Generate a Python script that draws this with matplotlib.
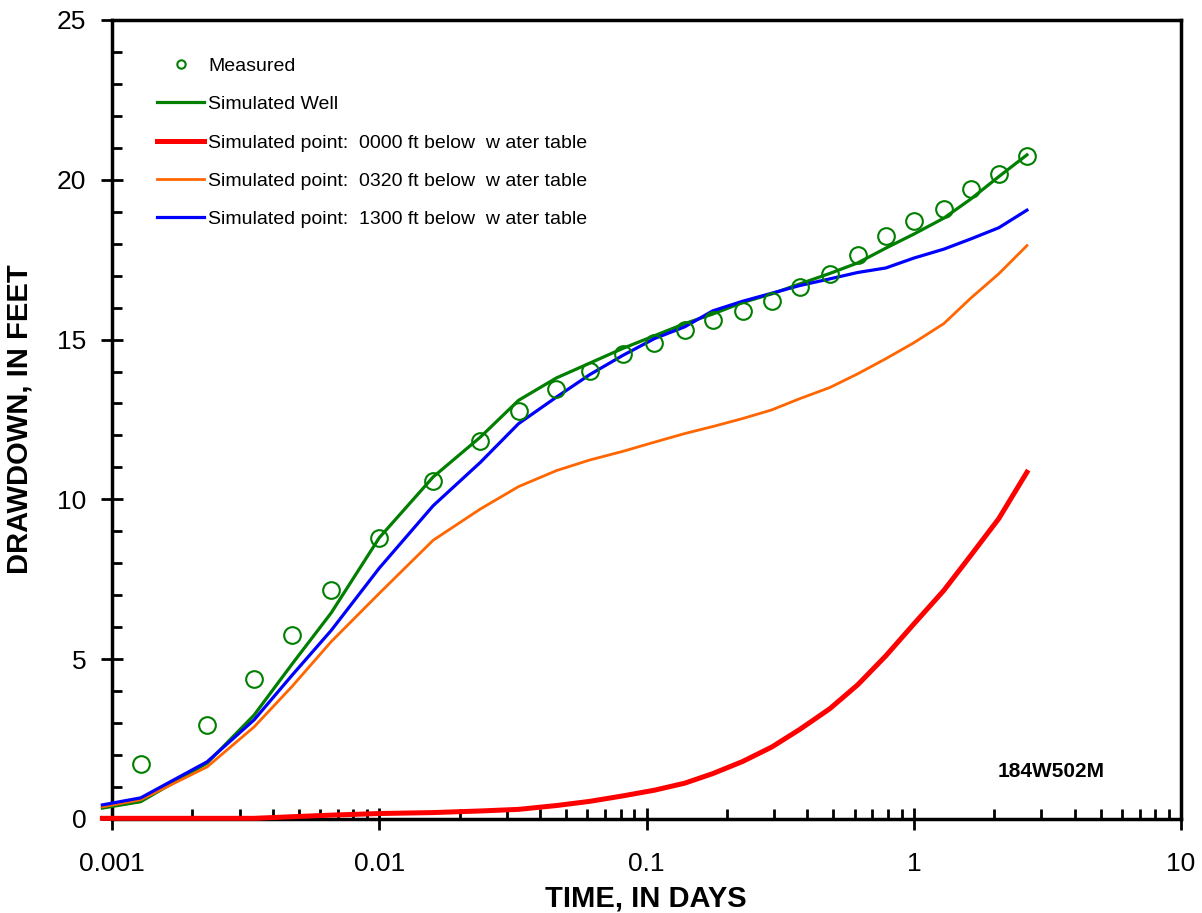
import numpy as np
import matplotlib
matplotlib.use('Agg')
import matplotlib.pyplot as plt
from matplotlib.ticker import LogLocator, MultipleLocator, FixedLocator, FixedFormatter

plt.rcParams['font.family'] = ['Liberation Sans', 'DejaVu Sans']

# measured drawdown at the observation well
t_meas = [0.00128, 0.00227, 0.0034, 0.00472, 0.00661, 0.01, 0.0159, 0.0239, 0.0332,
          0.046, 0.0612, 0.0813, 0.107, 0.139, 0.177, 0.229, 0.294, 0.374, 0.485,
          0.617, 0.785, 1.0, 1.295, 1.635, 2.08, 2.65]
dd_meas = [1.72, 2.94, 4.375, 5.75, 7.16, 8.78, 10.56, 11.84, 12.75, 13.44, 14.03,
           14.56, 14.9, 15.3, 15.6, 15.88, 16.2, 16.63, 17.05, 17.66, 18.25, 18.72,
           19.1, 19.7, 20.17, 20.75]

# simulated curves (same time steps, plus the first step)
t_sim = [0.00092] + t_meas
dd_well = [0.34, 0.54, 1.75, 3.25, 4.85, 6.45, 8.8, 10.7, 11.95, 13.1, 13.8, 14.26,
           14.72, 15.12, 15.5, 15.8, 16.16, 16.43, 16.74, 17.07, 17.4, 17.86, 18.3,
           18.8, 19.4, 20.1, 20.78]
dd_0000 = [0.02, 0.02, 0.02, 0.02, 0.07, 0.12, 0.17, 0.2, 0.25, 0.3, 0.42, 0.55, 0.72,
           0.9, 1.12, 1.42, 1.8, 2.25, 2.8, 3.45, 4.2, 5.1, 6.1, 7.15, 8.25, 9.4, 10.85]
dd_0320 = [0.38, 0.6, 1.63, 2.88, 4.15, 5.55, 7.06, 8.72, 9.7, 10.4, 10.9, 11.23, 11.5,
           11.79, 12.06, 12.28, 12.53, 12.8, 13.15, 13.5, 13.93, 14.4, 14.9, 15.5,
           16.3, 17.06, 17.94]
dd_1300 = [0.44, 0.66, 1.79, 3.1, 4.5, 5.9, 7.85, 9.8, 11.16, 12.37, 13.2, 13.9, 14.5,
           15.03, 15.4, 15.9, 16.2, 16.45, 16.69, 16.9, 17.1, 17.24, 17.55, 17.83,
           18.15, 18.5, 19.05]

xticks = [0.001, 0.01, 0.1, 1, 10]
xticklabels = ['0.001', '0.01', '0.1', '1', '10']

fig = plt.figure(figsize=(12.02, 9.13), dpi=100)
ax = fig.add_axes([0.0932, 0.103, 0.8894, 0.8751])

ax.plot(t_sim, dd_well, color='#007f00', lw=2.3, label='Simulated Well', clip_on=False, zorder=3)
ax.plot(t_sim, dd_0320, color='#ff6600', lw=2.0,
        label='Simulated point:  0320 ft below  w ater table', clip_on=False, zorder=3)
ax.plot(t_sim, dd_1300, color='#0000ff', lw=2.3,
        label='Simulated point:  1300 ft below  w ater table', clip_on=False, zorder=4)
ax.plot(t_sim, dd_0000, color='#ff0000', lw=3.6,
        label='Simulated point:  0000 ft below  w ater table', clip_on=False, zorder=5)
ax.plot(t_meas, dd_meas, ls='none', marker='o', ms=12, mfc='none', mec='#007f00',
        mew=1.5, label='Measured', zorder=6)

ax.set_xscale('log')
ax.set_xlim(0.001, 10)
ax.set_ylim(0, 25)

ax.xaxis.set_major_locator(FixedLocator(xticks))
ax.xaxis.set_major_formatter(FixedFormatter(xticklabels))
ax.xaxis.set_minor_locator(LogLocator(base=10, subs=np.arange(2, 10)))
ax.xaxis.set_minor_formatter(plt.NullFormatter())
ax.yaxis.set_major_locator(MultipleLocator(5))
ax.yaxis.set_minor_locator(MultipleLocator(1))

ax.tick_params(which='major', direction='inout', length=16, width=2, labelsize=19)
ax.tick_params(axis='x', which='major', pad=16)
ax.tick_params(axis='y', which='major', pad=10.5)
ax.tick_params(which='minor', direction='in', length=7, width=2)
ax.tick_params(top=False, right=False, which='both')
for s in ax.spines.values():
    s.set_linewidth(2.5)

ax.set_xlabel('TIME, IN DAYS', fontsize=21, fontweight='bold')
ax.set_ylabel('DRAWDOWN, IN FEET', fontsize=21, fontweight='bold')
ax.xaxis.set_label_coords(0.499, -0.082)
ax.yaxis.set_label_coords(-0.073, 0.5)

ax.text(3.26, 1.47, '184W502M', fontsize=15, fontweight='bold', ha='center', va='center')

h, l = ax.get_legend_handles_labels()
order = [4, 0, 3, 1, 2]
leg = ax.legend([h[i] for i in order], [l[i] for i in order], loc='upper left',
                bbox_to_anchor=(0.026, 0.975), frameon=False, fontsize=14,
                handlelength=2.4, handletextpad=0.2, labelspacing=1.06, markerscale=0.5)

fig.savefig('out.png', dpi=100)
